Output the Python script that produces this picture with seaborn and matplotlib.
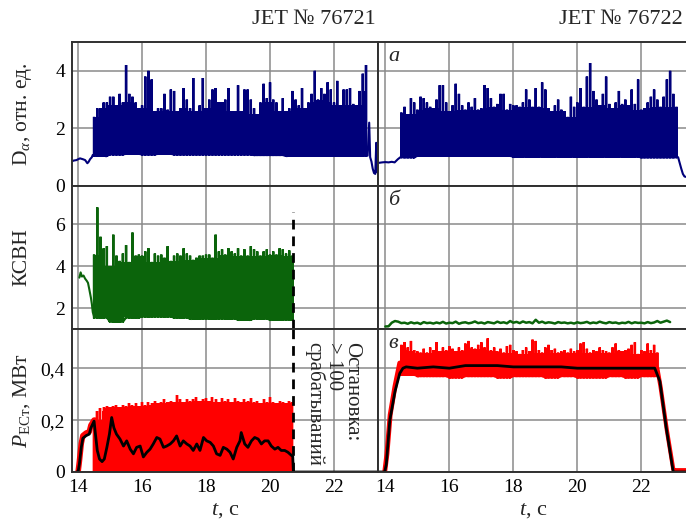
import numpy as np
import matplotlib
matplotlib.use("Agg")
import matplotlib.pyplot as plt
import seaborn as sns

# ---------------- data ----------------
# D_alpha, shot 76721 (left)
da1_pre_t = [13.81, 13.85, 13.95, 14.06, 14.15, 14.22, 14.29, 14.33, 14.375, 14.43, 14.46]
da1_pre_v = [0.85, 0.88, 0.9, 0.96, 0.93, 0.9, 0.79, 0.84, 0.93, 1.0, 1.08]
da1_top = [2.4, 2.7, 2.7, 2.9, 2.9, 3.1, 3.1, 2.8, 3.2, 2.9,
           4.2, 3.2, 3.1, 2.9, 2.7, 2.8, 3.8, 4.0, 3.7, 2.6,
           2.7, 2.7, 3.2, 2.65, 3.35, 3.3, 2.6, 2.7, 3.4, 3.0,
           2.7, 3.75, 2.6, 2.8, 3.75, 2.7, 3.0, 3.35, 3.4, 2.9,
           2.9, 3.0, 3.4, 2.6, 2.6, 3.5, 2.6, 3.35, 3.35, 3.0,
           2.7, 2.5, 2.9, 3.55, 3.05, 3.6, 3.0, 2.9, 2.6, 3.05,
           2.6, 2.7, 3.3, 3.0, 2.8, 3.4, 2.7, 2.9, 3.2, 4.0,
           3.0, 3.4, 3.2, 3.6, 3.35, 2.9, 3.65, 2.8, 3.35, 3.35,
           3.4, 2.85, 2.8, 3.3, 3.9, 4.2]
da1_base_half_s = [1.05, 1.1, 1.12, 1.1, 1.12, 1.1, 1.1, 1.1, 1.1, 1.1,
                   1.08, 1.08, 1.05, 1.05, 1.05, 1.05, 1.05, 1.05]
da1_tail_t = [23.05, 23.1, 23.13, 23.17, 23.21, 23.25, 23.29, 23.32, 23.345, 23.375]
da1_tail_v = [1.05, 2.2, 1.0, 0.85, 0.6, 0.45, 0.42, 1.5, 0.5, 0.45]

# D_alpha, shot 76722 (right)
da2_pre_t = [13.77, 13.9, 14.0, 14.1, 14.2, 14.29, 14.39, 14.47]
da2_pre_v = [0.8, 0.82, 0.83, 0.82, 0.84, 0.82, 0.93, 1.0]
da2_top = [2.55, 2.75, 2.5, 3.05, 2.9, 2.65, 3.1, 3.05, 2.9, 2.75,
           2.7, 3.0, 3.5, 3.5, 2.9, 2.6, 2.8, 3.55, 3.2, 2.8,
           2.65, 2.9, 2.75, 3.05, 2.65, 2.7, 3.5, 3.4, 3.05, 2.75,
           2.85, 3.2, 3.2, 2.65, 2.85, 2.8, 2.8, 2.75, 2.9, 3.35,
           3.0, 2.75, 3.4, 2.75, 3.6, 3.35, 2.7, 2.6, 2.8, 3.0,
           2.65, 2.6, 2.4, 3.1, 2.75, 2.9, 3.4, 2.75, 3.8, 4.27,
           3.3, 3.0, 2.8, 3.2, 3.8, 2.85, 2.7, 2.9, 3.3, 2.85,
           3.0, 2.8, 3.35, 2.85, 3.7, 2.65, 2.7, 2.9, 3.1, 3.35,
           3.0, 2.75, 3.1, 3.7, 4.0, 3.2, 2.75]
da2_base_half_s = [1.0, 1.05, 1.05, 1.05, 1.05, 1.05, 1.05, 1.02, 1.02, 1.02,
                   1.02, 1.02, 1.02, 1.02, 1.02, 1.0, 1.0, 1.0]
da2_tail_t = [23.15, 23.2, 23.25, 23.3, 23.35, 23.46]
da2_tail_v = [1.0, 0.8, 0.6, 0.42, 0.33, 0.3]

# VSWR (KSVN), shot 76721
ks1_pre_t = [14.04, 14.08, 14.12, 14.17, 14.22, 14.27, 14.31, 14.35, 14.4, 14.43, 14.46, 14.5]
ks1_pre_v = [3.45, 3.7, 3.5, 3.55, 3.4, 3.3, 3.2, 2.9, 2.5, 2.2, 1.8, 1.6]
ks1_top = [4.55, 6.8, 5.4, 4.85, 4.95, 4.0, 5.5, 4.5, 4.25, 4.6,
           5.0, 4.2, 5.6, 4.5, 4.55, 4.5, 4.7, 4.85, 4.2, 4.6,
           4.5, 4.55, 4.4, 4.95, 4.25, 4.5, 4.6, 4.5, 4.85, 4.6,
           4.5, 4.3, 4.4, 4.5, 4.5, 4.55, 4.55, 4.4, 5.5, 4.7,
           4.8, 4.55, 4.85, 4.7, 4.6, 4.85, 4.5, 4.8, 4.5, 4.95,
           4.8, 4.7, 4.5, 4.7, 4.8, 4.55, 4.7, 4.55, 4.85, 4.8,
           4.6, 4.75, 4.5]
ks1_base_half_s = [1.55, 1.35, 1.55, 1.6, 1.6, 1.55, 1.5, 1.5, 1.5, 1.45, 1.5, 1.45, 1.45]

# VSWR (KSVN), shot 76722 (samples every 0.1 s from 14.0 s)
ks2_v = [1.12, 1.13, 1.3, 1.38, 1.35, 1.28, 1.3, 1.25, 1.32, 1.27,
         1.3, 1.24, 1.33, 1.28, 1.3, 1.26, 1.31, 1.27, 1.34, 1.26,
         1.3, 1.28, 1.35, 1.25, 1.3, 1.32, 1.27, 1.3, 1.36, 1.28,
         1.31, 1.26, 1.33, 1.3, 1.27, 1.35, 1.29, 1.32, 1.27, 1.38,
         1.3, 1.34, 1.28, 1.36, 1.3, 1.33, 1.27, 1.44, 1.3, 1.35,
         1.28, 1.32, 1.3, 1.26, 1.33, 1.29, 1.31, 1.27, 1.3, 1.26,
         1.32, 1.28, 1.3, 1.34, 1.27, 1.31, 1.28, 1.35, 1.3, 1.27,
         1.33, 1.29, 1.31, 1.26, 1.3, 1.28, 1.34, 1.27, 1.32, 1.29,
         1.3, 1.27, 1.33, 1.28, 1.31, 1.38, 1.3, 1.35, 1.4, 1.33]

# ECRH power, shot 76721
p1_red_pre_t = [14.0, 14.04, 14.1, 14.15, 14.25, 14.35, 14.4, 14.5, 14.53]
p1_red_pre_v = [0.0, 0.04, 0.11, 0.14, 0.15, 0.155, 0.18, 0.2, 0.2]
p1_red_top = [0.2, 0.235, 0.245, 0.25, 0.255, 0.25, 0.255, 0.26, 0.25, 0.26,
              0.255, 0.265, 0.26, 0.265, 0.255, 0.27, 0.26, 0.27, 0.265, 0.275,
              0.265, 0.27, 0.28, 0.27, 0.275, 0.27, 0.295, 0.28, 0.27, 0.28,
              0.275, 0.28, 0.29, 0.275, 0.28, 0.285, 0.275, 0.29, 0.28, 0.27,
              0.285, 0.275, 0.28, 0.27, 0.285, 0.275, 0.27, 0.28, 0.275, 0.285,
              0.27, 0.275, 0.265, 0.28, 0.27, 0.29, 0.27, 0.265, 0.275, 0.27,
              0.265, 0.275, 0.27]
p1_black_t = [13.95, 14.0, 14.04, 14.1, 14.15, 14.25, 14.35, 14.4, 14.5, 14.53,
              14.6, 14.67, 14.75, 14.82, 14.9, 14.98, 15.05, 15.12, 15.2, 15.31,
              15.42, 15.52, 15.63, 15.73, 15.83, 15.94, 16.04, 16.15, 16.25, 16.35,
              16.46, 16.56, 16.67, 16.77, 16.88, 16.98, 17.08, 17.19, 17.29, 17.4,
              17.5, 17.6, 17.71, 17.81, 17.92, 18.02, 18.13, 18.23, 18.33, 18.44,
              18.54, 18.65, 18.75, 18.85, 18.96, 19.06, 19.1, 19.21, 19.31, 19.42,
              19.52, 19.63, 19.73, 19.83, 19.94, 20.04, 20.15, 20.25, 20.35, 20.46,
              20.56, 20.67, 20.71, 20.73, 23.375]
p1_black_v = [0, 0, 0.03, 0.095, 0.13, 0.14, 0.146, 0.17, 0.196, 0.16,
              0.083, 0.05, 0.04, 0.05, 0.095, 0.146, 0.21, 0.17, 0.146, 0.127,
              0.1, 0.12, 0.088, 0.07, 0.095, 0.1, 0.058, 0.076, 0.088, 0.108,
              0.133, 0.127, 0.095, 0.1, 0.108, 0.12, 0.139, 0.1, 0.12, 0.108,
              0.1, 0.083, 0.108, 0.083, 0.133, 0.12, 0.114, 0.1, 0.07, 0.064,
              0.095, 0.088, 0.076, 0.05, 0.095, 0.12, 0.152, 0.108, 0.095, 0.12,
              0.133, 0.127, 0.108, 0.12, 0.12, 0.1, 0.088, 0.095, 0.083, 0.083,
              0.076, 0.064, 0.06, 0.0, 0.0]

# ECRH power, shot 76722
p2_red_ramp_t = [13.98, 14.05, 14.15, 14.3, 14.45]
p2_red_ramp_v = [0.0, 0.07, 0.22, 0.33, 0.42]
p2_red_top = [0.49, 0.5, 0.48, 0.505, 0.47, 0.465, 0.46, 0.475, 0.46, 0.48,
              0.47, 0.5, 0.465, 0.48, 0.47, 0.485, 0.475, 0.465, 0.48, 0.47,
              0.495, 0.505, 0.48, 0.475, 0.49, 0.5, 0.48, 0.515, 0.47, 0.48,
              0.465, 0.475, 0.46, 0.485, 0.49, 0.47, 0.465, 0.455, 0.47, 0.48,
              0.465, 0.51, 0.505, 0.47, 0.46, 0.48, 0.49, 0.47, 0.475, 0.46,
              0.465, 0.47, 0.46, 0.475, 0.465, 0.47, 0.495, 0.5, 0.475, 0.46,
              0.47, 0.465, 0.48, 0.47, 0.465, 0.46, 0.48, 0.495, 0.47, 0.465,
              0.47, 0.475, 0.49, 0.5, 0.455, 0.47, 0.465, 0.495, 0.47, 0.49,
              0.46]
p2_red_low_half_s = [0.375, 0.37, 0.37, 0.365, 0.37, 0.37, 0.365, 0.37, 0.37,
                     0.365, 0.37, 0.365, 0.365, 0.37, 0.365, 0.37, 0.37]
p2_red_tail_t = [22.5, 22.6, 22.8, 23.0, 23.05, 23.46]
p2_red_tail_v = [0.4, 0.33, 0.16, 0.01, 0.007, 0.007]
p2_black_t = [13.77, 13.98, 14.03, 14.14, 14.3, 14.45, 14.55, 14.65, 15.0, 15.5,
              16.0, 16.5, 17.0, 17.5, 18.0, 18.5, 19.0, 19.5, 20.0, 20.5,
              21.0, 21.5, 22.0, 22.42, 22.58, 22.78, 23.0, 23.46]
p2_black_v = [0, 0, 0.03, 0.2, 0.31, 0.38, 0.4, 0.405, 0.4, 0.405,
              0.4, 0.41, 0.41, 0.41, 0.405, 0.405, 0.405, 0.405, 0.4, 0.4,
              0.4, 0.4, 0.4, 0.4, 0.35, 0.17, 0.0, 0.0]

stop_time = 20.72
shots = ["JET № 76721", "JET № 76722"]
panel_letters = ["а", "б", "в"]
x_ticks = [14, 16, 18, 20, 22]
y_ticks = [[0, 2, 4], [2, 4, 6], [0, 0.2, 0.4]]
y_ticklabels = [["0", "2", "4"], ["2", "4", "6"], ["0", "0,2", "0,4"]]
y_labels = ["D$_{α}$, отн. ед.", "КСВН", "$P_{\\mathrm{ЕСт}}$, МВт"]
stop_note = "Остановка:\n> 100\nсрабатываний"

# ---------------- style ----------------
sns.set_theme(style="white")
plt.rcParams['font.family'] = ['Liberation Serif', 'DejaVu Serif']
plt.rcParams['mathtext.fontset'] = 'custom'
plt.rcParams['mathtext.rm'] = 'Liberation Serif'
plt.rcParams['mathtext.it'] = 'Liberation Serif:italic'
plt.rcParams['mathtext.bf'] = 'Liberation Serif:bold'

NAVY, GREEN, RED = '#00007a', '#0b640b', '#ff0000'
W, H = 686, 525
fig = plt.figure(figsize=(W / 100, H / 100), dpi=100)

def add_ax(x0, y_top, w, h):
    return fig.add_axes([x0 / W, 1 - (y_top + h) / H, w / W, h / H])

rows = [(42, 144), (186, 143), (329, 143)]
cols = [(72, 306, (13.81, 23.375)), (378, 310, (13.77, 23.46))]
axes = [[add_ax(c[0], r[0], c[1], r[1]) for c in cols] for r in rows]
ylims = [(0, 5.0), (1.0, 7.82), (0, 0.551)]

def grid(start, n):
    return np.round(start + 0.1 * np.arange(n), 2)

def spiky(ax, t, lo, hi, color, win=5, spike_lw=1.7):
    """Dense signal: solid core up to the local minimum of the sampled peaks,
    with each sampled peak drawn as a narrow vertical spike."""
    t = np.asarray(t, float)
    lo = np.asarray(lo, float)
    hi = np.asarray(hi, float)
    k = win // 2
    padded = np.pad(hi, k, mode='edge')
    core = np.array([padded[i:i + win].min() for i in range(len(hi))])
    ax.fill_between(t, lo, core, step='mid', color=color, lw=0)
    xs = np.column_stack([t, t, t]).ravel()
    ys = np.column_stack([lo, hi, lo]).ravel()
    sns.lineplot(x=xs, y=ys, ax=ax, color=color, lw=spike_lw, estimator=None,
                 sort=False, solid_joinstyle='miter')

def line(ax, t, v, color, lw=1.5):
    sns.lineplot(x=np.asarray(t, float), y=np.asarray(v, float), ax=ax, color=color,
                 lw=lw, estimator=None, sort=False)

# --- Dα ---
ax = axes[0][0]
t = grid(14.5, len(da1_top))
base = np.repeat(da1_base_half_s, 5)[:len(t)]
line(ax, da1_pre_t, da1_pre_v, NAVY)
spiky(ax, t, base, da1_top, NAVY)
line(ax, da1_tail_t, da1_tail_v, NAVY)

ax = axes[0][1]
t = grid(14.5, len(da2_top))
base = np.repeat(da2_base_half_s, 5)[:len(t)]
line(ax, da2_pre_t, da2_pre_v, NAVY)
spiky(ax, t, base, da2_top, NAVY)
line(ax, da2_tail_t, da2_tail_v, NAVY)

# --- KSVN ---
ax = axes[1][0]
t = grid(14.5, len(ks1_top))
base = np.repeat(ks1_base_half_s, 5)[:len(t)]
line(ax, ks1_pre_t, ks1_pre_v, GREEN)
spiky(ax, t, base, ks1_top, GREEN)
ax.axvline(stop_time, ymin=0, ymax=(6.6 - 1.0) / (7.82 - 1.0), color='black',
           lw=2, dashes=(3.5, 2.5))

ax = axes[1][1]
line(ax, grid(14.0, len(ks2_v)), ks2_v, GREEN, lw=1.8)

# --- P ECRH ---
ax = axes[2][0]
t = grid(14.5, len(p1_red_top))
line(ax, p1_red_pre_t, p1_red_pre_v, RED, lw=4)
spiky(ax, t, np.zeros(len(t)), p1_red_top, RED)
line(ax, p1_black_t, p1_black_v, 'black', lw=2)
ax.axvline(stop_time, color='black', lw=2, dashes=(3.5, 2.5))
ax.text(21.97, 0.5, stop_note, rotation=270, ha='center', va='top',
        multialignment='left', fontsize=15, linespacing=0.95)

ax = axes[2][1]
t = grid(14.5, len(p2_red_top))
low = np.repeat(p2_red_low_half_s, 5)[:len(t)]
line(ax, p2_red_ramp_t, p2_red_ramp_v, RED, lw=3.5)
spiky(ax, t, low, p2_red_top, RED)
line(ax, p2_red_tail_t, p2_red_tail_v, RED, lw=3)
line(ax, p2_black_t, p2_black_v, 'black', lw=2)

# --- axes cosmetics ---
for i in range(3):
    for j in range(2):
        ax = axes[i][j]
        ax.set_xlim(*cols[j][2])
        ax.set_ylim(*ylims[i])
        ax.set_xticks(x_ticks)
        ax.set_yticks(y_ticks[i])
        ax.set_xlabel('')
        ax.set_ylabel('')
        ax.grid(True, color='#8a8a8a', lw=1.1)
        ax.set_axisbelow(True)
        for s in ax.spines.values():
            s.set_color('#303030')
            s.set_linewidth(1.4)
        ax.tick_params(axis='both', length=0, labelsize=14, pad=5, colors='black')
        if j == 0:
            ax.set_yticklabels(y_ticklabels[i])
        else:
            ax.set_yticklabels([])
        if i < 2:
            ax.set_xticklabels([])
        else:
            ax.set_xticklabels([str(v) for v in x_ticks])
            ax.set_xticks([15, 17, 19, 21, 23], minor=True)
            ax.tick_params(axis='x', which='minor', direction='in', length=4,
                           width=1.2, color='#303030')
        if j == 1:
            ax.text(0.05, 0.9, panel_letters[i], transform=ax.transAxes,
                    fontsize=16, style='italic', ha='center', va='center')

# titles, labels
fig.text(376 / W, 1 - 20 / H, shots[0], ha='right', va='center', fontsize=16)
fig.text(683 / W, 1 - 20 / H, shots[1], ha='right', va='center', fontsize=16)
for i, (yt, h) in enumerate(rows):
    fig.text(22 / W, 1 - (yt + h / 2) / H, y_labels[i], rotation=90,
             ha='center', va='center', fontsize=15.5)
for cx in (225, 533):
    fig.text(cx / W, 1 - 510 / H, "$t$, с", ha='center', va='center', fontsize=16)

fig.savefig("out.png", dpi=100)
